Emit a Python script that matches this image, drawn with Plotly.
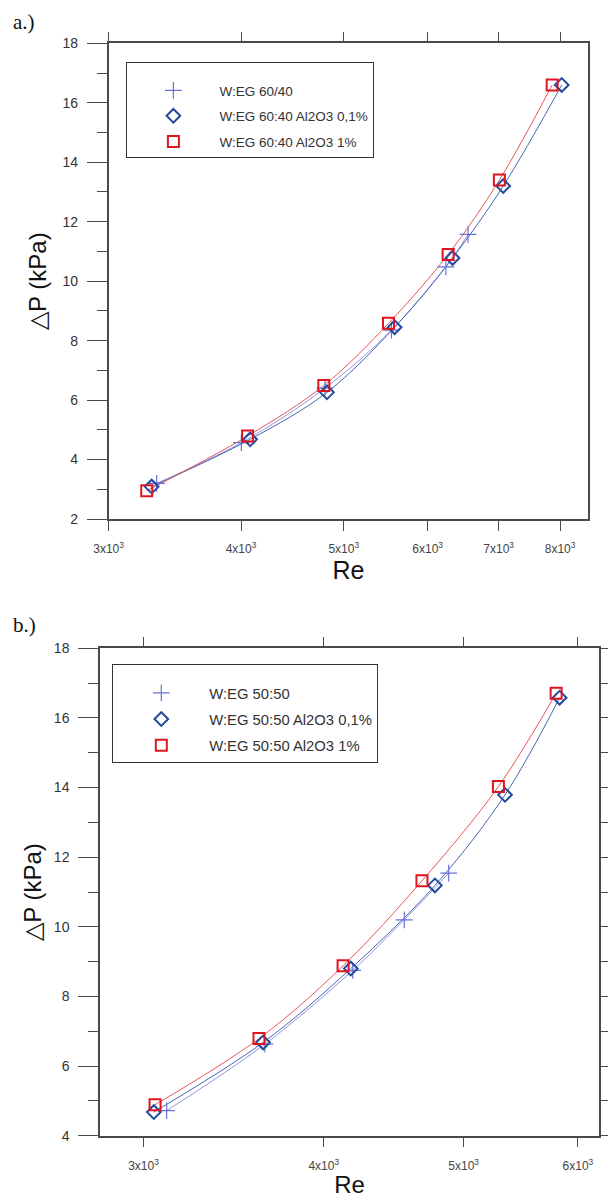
import math
import plotly.graph_objects as go

# ---------------- data ----------------
# Panel a.)  W:EG 60/40
re_a_base = [3330, 4003, 4800, 5546, 6242, 6550]
dp_a_base = [3.2, 4.57, 6.4, 8.35, 10.48, 11.57]
re_a_01 = [3294, 4080, 4821, 5584, 6333, 7070, 8028]
dp_a_01 = [3.09, 4.68, 6.26, 8.45, 10.78, 13.2, 16.6]
re_a_1 = [3259, 4057, 4788, 5510, 6273, 7011, 7863]
dp_a_1 = [2.95, 4.79, 6.49, 8.58, 10.9, 13.4, 16.6]

# Panel b.)  W:EG 50:50
re_b_base = [3113, 3641, 4189, 4548, 4882]
dp_b_base = [4.72, 6.63, 8.75, 10.2, 11.54]
re_b_01 = [3050, 3631, 4176, 4776, 5341, 5827]
dp_b_01 = [4.68, 6.68, 8.8, 11.19, 13.79, 16.58]
re_b_1 = [3056, 3607, 4125, 4678, 5285, 5795]
dp_b_1 = [4.89, 6.79, 8.88, 11.32, 14.03, 16.71]

names_a = ["W:EG 60/40", "W:EG 60:40 Al2O3 0,1%", "W:EG 60:40 Al2O3 1%"]
names_b = ["W:EG 50:50", "W:EG 50:50 Al2O3 0,1%", "W:EG 50:50 Al2O3 1%"]

xtick_vals_a = [3000, 4000, 5000, 6000, 7000, 8000]
xtick_text_a = ["3x10<sup>3</sup>", "4x10<sup>3</sup>", "5x10<sup>3</sup>",
                "6x10<sup>3</sup>", "7x10<sup>3</sup>", "8x10<sup>3</sup>"]
xtick_vals_b = [3000, 4000, 5000, 6000]
xtick_text_b = ["3x10<sup>3</sup>", "4x10<sup>3</sup>", "5x10<sup>3</sup>", "6x10<sup>3</sup>"]

# ---------------- styles ----------------
W, H = 608, 1198
FONT = "Liberation Sans, Arial, sans-serif"
AX = "#4a4a4a"
styles = [
    dict(symbol="cross-thin-open", size=12, mcolor="#6a70d8", lcolor="#9095e2", mw=1.2),
    dict(symbol="diamond-open", size=10.5, mcolor="#234a9c", lcolor="#4866ae", mw=2),
    dict(symbol="square-open", size=11, mcolor="#e0141e", lcolor="#e8545b", mw=2),
]

fig = go.Figure()

def add_panel(series, names, xa, ya, legend):
    # smooth curves first
    for (rx, dy), st in zip(series, styles):
        fig.add_trace(go.Scatter(
            x=rx, y=dy, mode="lines", line=dict(color=st["lcolor"], width=1, shape="spline"),
            xaxis=xa, yaxis=ya, showlegend=False, hoverinfo="skip"))
    for (rx, dy), st, nm in zip(series, styles, names):
        fig.add_trace(go.Scatter(
            x=rx, y=dy, mode="markers", name=nm, legend=legend, legendgroup=legend + nm,
            marker=dict(symbol=st["symbol"], size=st["size"], color=st["mcolor"],
                        line=dict(color=st["mcolor"], width=st["mw"])),
            xaxis=xa, yaxis=ya))

add_panel([(re_a_base, dp_a_base), (re_a_01, dp_a_01), (re_a_1, dp_a_1)], names_a, "x", "y", "legend")
add_panel([(re_b_base, dp_b_base), (re_b_01, dp_b_01), (re_b_1, dp_b_1)], names_b, "x2", "y2", "legend2")

# ---------------- geometry (pixels -> paper) ----------------
def px_x(p):
    return p / W

def px_y(p):
    return 1 - p / H

a_left, a_right, a_top, a_bot = 108.6, 588.3, 43.3, 519.0
b_left, b_right, b_top, b_bot = 100.0, 599.0, 648.3, 1135.7

def xaxis_style(title_size):
    return dict(type="log", ticks="outside", ticklen=10, tickwidth=1.3, tickcolor=AX,
                showline=True, linecolor=AX, linewidth=1.5, mirror="allticks",
                showgrid=False, zeroline=False, tickmode="array", automargin=False,
                tickfont=dict(family=FONT, size=12, color="#444"),
                ticklabelstandoff=8,
                title=dict(text="Re", font=dict(family=FONT, size=title_size, color="#111"), standoff=1))

def yaxis_style(standoff):
    return dict(ticks="outside", ticklen=20, tickwidth=1.3, tickcolor=AX,
                showline=True, linecolor=AX, linewidth=1.5, automargin=False,
                showgrid=False, zeroline=False, dtick=2,
                minor=dict(dtick=1, ticks="outside", ticklen=10, tickwidth=1.3, tickcolor=AX, showgrid=False),
                tickfont=dict(family=FONT, size=14, color="#333"),
                ticklabelstandoff=6,
                title=dict(text="△P (kPa)", font=dict(family=FONT, size=24, color="#111"), standoff=standoff))

fig.update_layout(
    width=W, height=H, margin=dict(l=0, r=0, t=0, b=0, autoexpand=False),
    paper_bgcolor="white", plot_bgcolor="white",
    xaxis=dict(xaxis_style(25), domain=[px_x(a_left), px_x(a_right)], anchor="y",
               range=[math.log10(3000), math.log10(8505)],
               tickvals=xtick_vals_a, ticktext=xtick_text_a),
    yaxis=dict(yaxis_style(9), domain=[px_y(a_bot), px_y(a_top)], anchor="x",
               range=[2, 18], tick0=2, mirror=True),
    yaxis3=dict(overlaying="y", side="right", anchor="x", range=[0.139, 17.976],
                tick0=0, dtick=2, ticks="outside", ticklen=20, tickwidth=1.3, tickcolor=AX,
                minor=dict(dtick=1, ticks="outside", ticklen=10, tickwidth=1.3, tickcolor=AX),
                showticklabels=False, showgrid=False, zeroline=False, showline=False,
                automargin=False),
    xaxis2=dict(xaxis_style(24), domain=[px_x(b_left), px_x(b_right)], anchor="y2",
                range=[math.log10(2799), math.log10(6205)],
                tickvals=xtick_vals_b, ticktext=xtick_text_b),
    yaxis2=dict(yaxis_style(5), domain=[px_y(b_bot), px_y(b_top)], anchor="x2",
                range=[4, 18], tick0=4, mirror="allticks"),
    legend=dict(x=px_x(126.4), y=px_y(62.3), xanchor="left", yanchor="top",
                bordercolor="#333", borderwidth=1, bgcolor="white",
                itemwidth=82, tracegroupgap=5,
                title=dict(text=" ", font=dict(size=9)),
                font=dict(family=FONT, size=13.5, color="#333")),
    legend2=dict(x=px_x(112.3), y=px_y(664), xanchor="left", yanchor="top",
                 bordercolor="#333", borderwidth=1, bgcolor="white",
                 itemwidth=86, tracegroupgap=4,
                 title=dict(text=" ", font=dict(size=9)),
                 font=dict(family=FONT, size=14.8, color="#333")),
    annotations=[
        dict(text="a.)", x=px_x(11), y=px_y(22), xref="paper", yref="paper",
             xanchor="left", yanchor="middle", showarrow=False,
             font=dict(family="Liberation Serif, Times New Roman, serif", size=21, color="#111")),
        dict(text="b.)", x=px_x(11), y=px_y(625), xref="paper", yref="paper",
             xanchor="left", yanchor="middle", showarrow=False,
             font=dict(family="Liberation Serif, Times New Roman, serif", size=21, color="#111")),
    ],
)

fig.write_html("out.html", config={"displayModeBar": False},
               post_script="document.body.style.margin='0';document.body.style.overflow='hidden';")
